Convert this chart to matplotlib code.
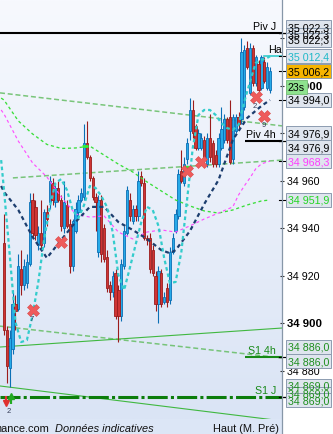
import numpy as np
import matplotlib
matplotlib.use("Agg")
import matplotlib.pyplot as plt
from matplotlib import transforms
from matplotlib.patches import Rectangle
from matplotlib.colors import LinearSegmentedColormap
from matplotlib.lines import Line2D

plt.rcParams['font.family'] = ['Liberation Sans', 'DejaVu Sans']
plt.rcParams['lines.scale_dashes'] = False

# ---------------- data ----------------
opens = [34934, 34897, 34881, 34889, 34908, 34906, 34923, 34916, 34917, 34925,
         34952, 34949, 34933, 34938, 34934, 34947, 34951, 34959, 34951, 34957,
         34952, 34940, 34950, 34942, 34924, 34939, 34947, 34952, 34953, 34976,
         34970, 34961, 34953, 34930, 34952, 34940, 34928, 34916, 34913, 34921,
         34914, 34903, 34924, 34938, 34952, 34943, 34948, 34945, 34962, 34959,
         34936, 34936, 34931, 34920, 34908, 34921, 34909, 34915, 34910, 34930,
         34939, 34945, 34964, 34959, 34969, 34981, 34990, 34983, 34974, 34974,
         34977, 34967, 34978, 34976, 34971, 34967, 34974, 34977, 34986, 34987,
         34969, 34981, 34987, 34986, 34991, 35016, 34997, 35016, 35001, 35009,
         34999, 35010, 34999, 34998]
highs = [34946, 34899, 34897, 34914, 34912, 34929, 34931, 34927, 34929, 34955,
         34955, 34952, 34941, 34952, 34948, 34950, 34962, 34961, 34959, 34960,
         34954, 34960, 34952, 34944, 34944, 34951, 34954, 34957, 34984, 34985,
         34971, 34962, 34955, 34954, 34954, 34942, 34931, 34918, 34922, 34923,
         34916, 34927, 34941, 34958, 34955, 34950, 34950, 34964, 34964, 34961,
         34937, 34938, 34933, 34922, 34924, 34923, 34913, 34917, 34932, 34938,
         34948, 34965, 34973, 34970, 34978, 34995, 34994, 34984, 34982, 34980,
         34979, 34980, 34988, 34977, 34973, 34980, 34991, 34988, 34987, 34994,
         34988, 34988, 34989, 35020, 35017, 35019, 35018, 35017, 35013, 35011,
         35013, 35012, 35010, 35008]
lows = [34895, 34875, 34873, 34887, 34897, 34905, 34912, 34914, 34915, 34924,
        34936, 34935, 34931, 34931, 34932, 34941, 34948, 34950, 34949, 34951,
        34939, 34938, 34940, 34921, 34922, 34938, 34945, 34951, 34952, 34969,
        34960, 34952, 34939, 34928, 34926, 34926, 34913, 34910, 34911, 34902,
        34892, 34901, 34923, 34937, 34943, 34942, 34943, 34943, 34958, 34935,
        34933, 34921, 34920, 34905, 34900, 34907, 34908, 34907, 34908, 34929,
        34938, 34944, 34959, 34958, 34967, 34977, 34978, 34973, 34973, 34973,
        34968, 34966, 34968, 34966, 34966, 34966, 34973, 34976, 34976, 34967,
        34967, 34980, 34982, 34984, 34990, 35007, 34996, 35000, 35000, 34997,
        34998, 35001, 34998, 34997]
closes = [34897, 34882, 34894, 34908, 34905, 34924, 34916, 34924, 34926, 34951,
          34938, 34937, 34938, 34933, 34947, 34944, 34960, 34952, 34957, 34952,
          34941, 34951, 34941, 34924, 34943, 34948, 34952, 34955, 34976, 34970,
          34961, 34953, 34951, 34952, 34929, 34927, 34915, 34913, 34920, 34903,
          34903, 34925, 34939, 34956, 34945, 34948, 34945, 34960, 34959, 34936,
          34935, 34923, 34921, 34908, 34922, 34908, 34911, 34909, 34930, 34936,
          34946, 34963, 34960, 34967, 34976, 34990, 34980, 34974, 34980, 34978,
          34970, 34978, 34970, 34967, 34967, 34978, 34982, 34986, 34977, 34968,
          34987, 34987, 34984, 35014, 35015, 35008, 35016, 35001, 35012, 34998,
          35012, 35002, 35008, 35006.2]

cyan_idx = [-1, 0, 2, 4, 6, 8, 10, 12, 14, 16, 18, 20, 22, 24, 26, 28, 30, 32,
            34, 36, 38, 40, 42, 44, 46, 48, 50, 52, 54, 56, 58, 60, 62, 64, 66,
            68, 70, 72, 74, 76, 78, 80, 82, 84, 86, 88, 90, 92, 93]
cyan_vals = [34968.7, 34956.1, 34928.8, 34900.5, 34892.1, 34892.9, 34903.5,
             34917.4, 34935.1, 34949.0, 34959.1, 34960.7, 34956.1, 34947.7,
             34944.3, 34949.8, 34957.8, 34957.0, 34953.6, 34949.0, 34938.4,
             34920.3, 34914.0, 34923.3, 34933.0, 34942.6, 34949.0, 34947.7,
             34941.0, 34927.5, 34916.9, 34917.4, 34930.0, 34951.9, 34973.8,
             34987.7, 34989.8, 34989.8, 34987.7, 34984.3, 34982.2, 34981.4,
             34983.5, 34993.2, 35001.6, 35009.6, 35010.8, 35011.7, 35012.4]

navy_idx = [-1, 0, 5, 10, 15, 20, 25, 30, 35, 40, 45, 50, 55, 58, 60, 65, 70,
            75, 80, 85, 90, 93]
navy_vals = [34957.8, 34955.3, 34947.7, 34936.3, 34927.5, 34935.1, 34942.6,
             34949.0, 34949.0, 34942.6, 34939.3, 34935.5, 34930.8, 34929.5,
             34930.8, 34938.8, 34950.2, 34960.3, 34977.2, 34986.4, 34991.5,
             34994.0]

magenta_idx = [-1, 0, 5, 10, 15, 20, 25, 30, 35, 40, 45, 50, 55, 60, 65, 70,
               75, 80, 82, 84, 86, 88, 90, 93]
magenta_vals = [34989.8, 34988.1, 34976.7, 34967.5, 34961.6, 34953.2, 34946.0,
                34944.7, 34945.2, 34938.4, 34935.5, 34938.4, 34939.3, 34938.4,
                34941.0, 34943.9, 34946.4, 34949.0, 34954.0, 34957.8, 34961.2,
                34965.0, 34967.1, 34968.3]

lime_idx = [-1, 0, 5, 10, 15, 20, 25, 30, 35, 40, 45, 50, 55, 60, 65, 70, 75,
            80, 85, 90, 93]
lime_vals = [34994.8, 34994.0, 34985.2, 34979.7, 34975.3, 34973.6, 34973.8,
             34974.6, 34970.8, 34967.0, 34963.7, 34959.5, 34955.7, 34951.9,
             34949.4, 34947.3, 34946.4, 34947.7, 34949.8, 34951.5, 34951.9]

# straight trend lines: (start index, start price, end price at right edge)
dashed_trends = [(None, 34997.0, 34983.1), (3.1, 34961.2, 34968.7),
                 (None, 34898.8, 34885.4)]
solid_trends = [(None, 34890.0, 34898.0), (None, 34873.6, 34858.9)]

pivot_names = ['Piv J', 'Piv 4h', 'S1 4h', 'S1 J']
pivot_values = [35022.3, 34976.9, 34886.0, 34869.0]

signal_idx = [10, 20, 64, 69, 88, 91]
signal_vals = [34905.6, 34934.2, 34964.1, 34967.9, 34995.3, 34987.3]
signal_nums = {10: '7', 88: '2', 91: '9'}

haut_value = 35012.4

tick_values = [34880, 34900, 34920, 34940, 34960, 34980, 35000, 35020]

# right-hand value boxes: value, label position, text colour, face colour
box_values = [35022.3, 35022.3, 35022.3, 35012.4, 35006.2, 34994.0, 34976.9,
              34976.9, 34968.3, 34951.9, 34886.0, 34886.0, 34869.0, 34869.0,
              34869.0]
box_pos = [35024.7, 35021.4, 35019.3, 35012.4, 35006.2, 34994.0, 34979.9,
           34974.2, 34968.3, 34951.9, 34890.2, 34884.1, 34873.6, 34870.4,
           34867.5]
box_text_col = ['black', 'black', 'black', '#1fb8c8', 'black', 'black', 'black',
                'black', '#ff3cff', '#22d622', '#1f8f1f', '#1f8f1f', '#1f8f1f',
                '#1f8f1f', '#1f8f1f']
box_face = ['#dfe5ee'] * 4 + ['#f6b400'] + ['#dfe5ee'] * 10

# ---------------- figure ----------------
W, H, DPI = 333, 434, 100
fig = plt.figure(figsize=(W / DPI, H / DPI), dpi=DPI, facecolor='white')
PR, PB = 282, 419
ax = fig.add_axes([0, 1 - PB / H, PR / W, PB / H])
XMIN, XMAX = -1.4, 97.2
YMIN, YMAX = 34859.7, 35036.1
ppp = PB / (YMAX - YMIN)


def dy(px):
    return px / ppp


def ix(px):
    return XMIN + px / PR * (XMAX - XMIN)


fig.add_artist(Rectangle((0, 0), PR / W, 1 - PB / H, transform=fig.transFigure,
                         facecolor='#dce6f6', edgecolor='none', zorder=0))

cmap = LinearSegmentedColormap.from_list('bg', ['#f7f9fe', '#dae4f5'])
ax.imshow(np.linspace(0, 1, 256).reshape(-1, 1), cmap=cmap, aspect='auto',
          extent=[XMIN, XMAX, YMIN, YMAX], origin='upper', zorder=0,
          interpolation='bilinear')
ax.set_xlim(XMIN, XMAX)
ax.set_ylim(YMIN, YMAX)

# trend lines
for s, a, b in dashed_trends:
    x0 = XMIN if s is None else s
    ax.plot([x0, XMAX], [a, b], color='#6cc06c', lw=1.1, dashes=[3.6, 2.0],
            zorder=2, alpha=0.9)
for s, a, b in solid_trends:
    x0 = XMIN if s is None else s
    ax.plot([x0, XMAX], [a, b], color='#40b840', lw=0.8, zorder=2)

# pivot levels
ax.hlines(pivot_values[0], XMIN, XMAX, color='black', lw=1.5, zorder=3)
ax.hlines(pivot_values[1], ix(245), XMAX, color='black', lw=1.5, zorder=3)
ax.hlines(pivot_values[2], ix(245), XMAX, color='#178a17', lw=1.5, zorder=3)
ax.plot([XMIN, XMAX], [pivot_values[3]] * 2, color='#0b7d0b', lw=2.2,
        dashes=[14.4, 2.3, 2.2, 2.3], zorder=3)
lab_cols = ['black', 'black', '#1a8a1a', '#1a8a1a']
for name, v, c in zip(pivot_names, pivot_values, lab_cols):
    ax.text(ix(276), v + dy(2.5), name, ha='right', va='baseline',
            fontsize=7.7, color=c, zorder=9)

# candles
o = np.array(opens, float); h = np.array(highs, float)
l = np.array(lows, float); c = np.array(closes, float)
x = np.arange(len(o))
up = c >= o
bb = np.minimum(o, c)
bh = np.maximum(np.abs(c - o), 0.5)
ax.vlines(x[up], l[up], h[up], color='#0b6fb5', lw=0.8, zorder=4)
ax.vlines(x[~up], l[~up], h[~up], color='#9b1c1c', lw=0.8, zorder=4)
ax.bar(x[up], bh[up], bottom=bb[up], width=0.8, color='#27aae8',
       edgecolor='#0b6fb5', lw=0.6, zorder=5)
ax.bar(x[~up], bh[~up], bottom=bb[~up], width=0.8, color='#cf3434',
       edgecolor='#9b1c1c', lw=0.6, zorder=5)

# indicator curves
ax.plot(lime_idx, lime_vals, color='#3ade3a', lw=0.95, dashes=[2.2, 2.0], zorder=6)
ax.plot(magenta_idx, magenta_vals, color='#ff50ff', lw=0.85, dashes=[2.2, 2.0], zorder=6)
ax.plot(navy_idx, navy_vals, color='#1c3d6e', lw=1.6, dashes=[2.9, 2.4], zorder=6)
ax.plot(cyan_idx, cyan_vals, color='#33cccc', lw=1.6, dashes=[2.6, 2.1], zorder=6)

# Haut level
ax.plot([91, XMAX], [haut_value] * 2, color='#33cccc', lw=1.2, zorder=6)
ax.text(92.3, haut_value + dy(1.5), 'Haut', fontsize=7.7, ha='left',
        va='bottom', clip_on=True, zorder=9)

# lime small marks
ax.plot([28.3, 64], [34974.6, 34965.8], ls='none', marker='_', ms=4, mew=2,
        color='#33ee33', zorder=7)

# signals
ax.plot(signal_idx, signal_vals, ls='none', marker='X', ms=8, mfc='#ee5b5b',
        mec='#d84848', mew=0.4, zorder=8)
for i, v in zip(signal_idx, signal_vals):
    if i in signal_nums:
        ax.text(i - 0.3, v - dy(10), signal_nums[i], fontsize=5.5,
                color='#333a55', ha='center', va='center', zorder=8)

# bottom-left arrows
ax.plot([0.7, 0.7], [34869.5, 34867.0], color='#e03030', lw=1.6, zorder=8,
        solid_capstyle='butt')
ax.plot([0.7], [34866.3], marker='v', ms=4.5, color='#e03030', ls='none', zorder=8)
ax.plot([2.6, 2.6], [34866.0, 34868.6], color='#22aa22', lw=1.6, zorder=8,
        solid_capstyle='butt')
ax.plot([2.6], [34869.3], marker='^', ms=4.5, color='#22aa22', ls='none', zorder=8)
ax.text(1.7, 34863.0, '2', fontsize=5.5, color='#333a55', ha='center',
        va='center', zorder=8)

# right axis
ax.yaxis.tick_right()
ax.set_yticks(tick_values)
ax.set_yticklabels(['%d %03d' % (t // 1000, t % 1000) for t in tick_values])
ax.tick_params(axis='y', direction='inout', length=3, width=0.8,
               color='#333333', pad=2.2, labelsize=7.7, labelcolor='black')
for lab, t in zip(ax.get_yticklabels(), tick_values):
    if t % 100 == 0:
        lab.set_fontweight('bold')
        lab.set_fontsize(8.2)
ax.set_xticks([])
for sp in ax.spines.values():
    sp.set_visible(False)
fig.add_artist(Line2D([PR / W, PR / W], [0, 1], transform=fig.transFigure,
                      color='#8797a8', lw=0.9, zorder=5))

blend = transforms.blended_transform_factory(ax.transAxes, ax.transData)
bx0, bw, bhh = 286 / PR, 45 / PR, dy(14)
for val, pos, tc, fc in zip(box_values, box_pos, box_text_col, box_face):
    ax.plot([279 / PR, 286 / PR], [val, val], transform=blend, color='black',
            lw=0.8, clip_on=False, zorder=9)
    ax.add_patch(Rectangle((bx0, pos - bhh / 2), bw, bhh, transform=blend,
                           facecolor=fc, edgecolor='#8c9cb0', lw=0.7,
                           clip_on=False, zorder=10))
    txt = ('%.1f' % val).replace('.', ',')
    txt = txt[:2] + ' ' + txt[2:]
    ax.text(bx0 + 2 / PR, pos, txt, transform=blend, va='center_baseline',
            ha='left', fontsize=7.7, color=tc, clip_on=False, zorder=11)

# countdown box
ax.add_patch(Rectangle((bx0, 34999.3 - bhh / 2), 21 / PR, bhh, transform=blend,
                       facecolor='#8ee28e', edgecolor='#7cc07c', lw=0.7,
                       clip_on=False, zorder=10))
ax.text(bx0 + 2 / PR, 34999.3, '23s', transform=blend, va='center_baseline',
        ha='left', fontsize=7.7, color='black', clip_on=False, zorder=11)

# footer
fy = 1 - 432 / H
fig.text(49 / W, fy, 'nance.com', ha='right', va='baseline', fontsize=7.9,
         color='#111111')
fig.text(55 / W, fy, 'Données indicatives', ha='left', va='baseline',
         fontsize=7.9, style='italic', color='#111111')
fig.text(213 / W, fy, 'Haut (M. Pré)', ha='left', va='baseline', fontsize=7.9,
         color='#111111')

fig.savefig('out.png', dpi=DPI, facecolor=fig.get_facecolor())
